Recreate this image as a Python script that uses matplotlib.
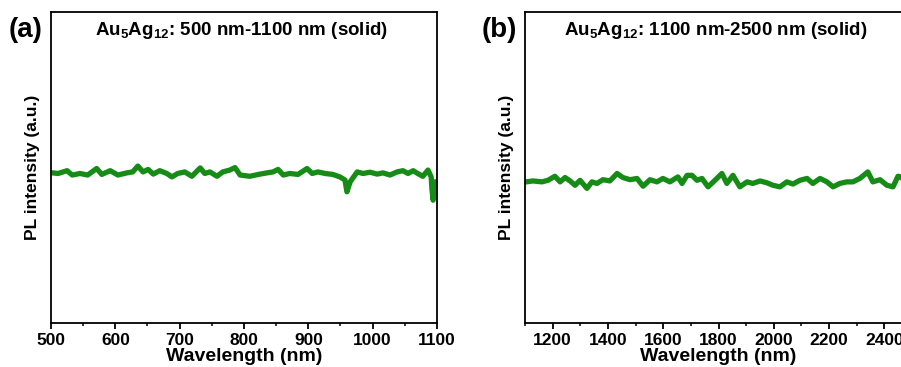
import numpy as np
import matplotlib
matplotlib.use('Agg')
import matplotlib.pyplot as plt
from matplotlib.ticker import MultipleLocator

plt.rcParams['font.family'] = ['Liberation Sans', 'DejaVu Sans']
plt.rcParams['font.weight'] = 'bold'
plt.rcParams['mathtext.fontset'] = 'custom'
plt.rcParams['mathtext.rm'] = 'Liberation Sans:bold'
plt.rcParams['mathtext.it'] = 'Liberation Sans:bold'
plt.rcParams['mathtext.bf'] = 'Liberation Sans:bold'

# panel (a): 500-1100 nm
wl_a = [502, 511, 525, 533, 545, 557, 571, 579, 592, 604, 618, 627, 635, 643,
        651, 659, 669, 680, 688, 697, 708, 719, 732, 739, 747, 758, 767, 778,
        786, 794, 809, 825, 836, 845, 853, 861, 871, 884, 898, 906, 915, 926,
        938, 949, 957, 960, 965, 976, 985, 996, 1007, 1016, 1027, 1038, 1047,
        1055, 1063, 1070, 1078, 1086, 1091, 1092, 1094, 1097, 1100]
pl_a = [48.3, 48.1, 49.0, 47.6, 48.1, 47.6, 49.7, 47.8, 49.0, 47.6, 48.3, 48.6,
        50.5, 48.6, 49.4, 47.9, 49.0, 48.1, 47.0, 48.1, 48.6, 47.2, 49.9, 48.1,
        48.6, 47.2, 48.6, 49.2, 50.0, 47.6, 47.2, 47.9, 48.3, 48.6, 49.4, 47.6,
        48.1, 47.8, 49.7, 48.1, 48.6, 48.1, 47.8, 47.0, 46.0, 42.2, 45.4, 48.6,
        48.1, 48.5, 47.9, 48.3, 47.6, 48.6, 49.0, 48.1, 49.0, 48.1, 47.2, 49.2,
        47.0, 43.3, 39.5, 45.4, 45.4]

# panel (b): 1100-2500 nm
wl_b = [1104, 1129, 1161, 1183, 1208, 1227, 1245, 1263, 1281, 1299, 1324, 1342,
        1360, 1382, 1407, 1433, 1454, 1480, 1505, 1527, 1552, 1577, 1599, 1624,
        1653, 1668, 1686, 1704, 1722, 1740, 1762, 1787, 1812, 1830, 1852, 1877,
        1903, 1924, 1950, 1975, 1997, 2022, 2047, 2069, 2094, 2120, 2141, 2167,
        2192, 2214, 2239, 2264, 2286, 2311, 2340, 2358, 2384, 2409, 2431, 2449,
        2460, 2475, 2490]
pl_b = [45.4, 45.7, 45.4, 45.9, 47.2, 45.4, 46.8, 45.7, 44.3, 45.9, 43.3, 45.4,
        44.9, 46.1, 45.7, 48.1, 46.8, 46.1, 46.5, 44.0, 46.1, 45.4, 46.5, 45.4,
        47.0, 44.9, 47.5, 47.5, 45.9, 46.5, 43.8, 45.9, 48.1, 44.9, 47.5, 43.8,
        45.4, 44.9, 45.7, 45.1, 44.3, 43.8, 45.4, 44.7, 45.9, 46.5, 44.9, 46.5,
        45.4, 43.8, 44.9, 45.4, 45.4, 46.5, 48.6, 45.4, 46.1, 44.3, 43.8, 47.2,
        47.0, 45.5, 46.0]

panels = [
    dict(label='(a)', wl=wl_a, pl=pl_a, xlim=(500, 1100), major=100, minor=50,
         title=r'Au$_{5}$Ag$_{12}$: 500 nm-1100 nm (solid)',
         rect=[0.0566, 0.1199, 0.4284, 0.847], lx=0.010),
    dict(label='(b)', wl=wl_b, pl=pl_b, xlim=(1100, 2500), major=200, minor=100,
         title=r'Au$_{5}$Ag$_{12}$: 1100 nm-2500 nm (solid)',
         rect=[0.5827, 0.1199, 0.4296, 0.847], lx=0.535),
]

fig = plt.figure(figsize=(9.01, 3.67), dpi=100)
for p in panels:
    ax = fig.add_axes(p['rect'])
    ax.plot(p['wl'], p['pl'], color='#168c16', lw=3.8, solid_joinstyle='round')
    ax.set_xlim(*p['xlim'])
    ax.set_ylim(0, 100)
    ax.xaxis.set_major_locator(MultipleLocator(p['major']))
    ax.xaxis.set_minor_locator(MultipleLocator(p['minor']))
    ax.set_yticks([])
    ax.tick_params(axis='x', which='major', direction='out', length=4, width=1.3,
                   labelsize=12.5, pad=3)
    ax.tick_params(axis='x', which='minor', direction='out', length=2.5, width=1.1)
    if p['label'] == '(b)':
        ax.set_xticks(list(range(1200, 2500, 200)))
    for s in ax.spines.values():
        s.set_linewidth(1.3)
    ax.set_xlabel('Wavelength (nm)', fontsize=14, fontweight='bold', labelpad=0.5)
    ax.set_ylabel('PL intensity (a.u.)', fontsize=12.5, fontweight='bold', labelpad=8)
    ax.text(0.493, 0.942, p['title'], transform=ax.transAxes, ha='center',
            va='center', fontsize=13.5, fontweight='bold')
    fig.text(p['lx'], 0.918, p['label'], ha='left', va='center', fontsize=20,
             fontweight='bold')

fig.savefig('out.png', dpi=100)
